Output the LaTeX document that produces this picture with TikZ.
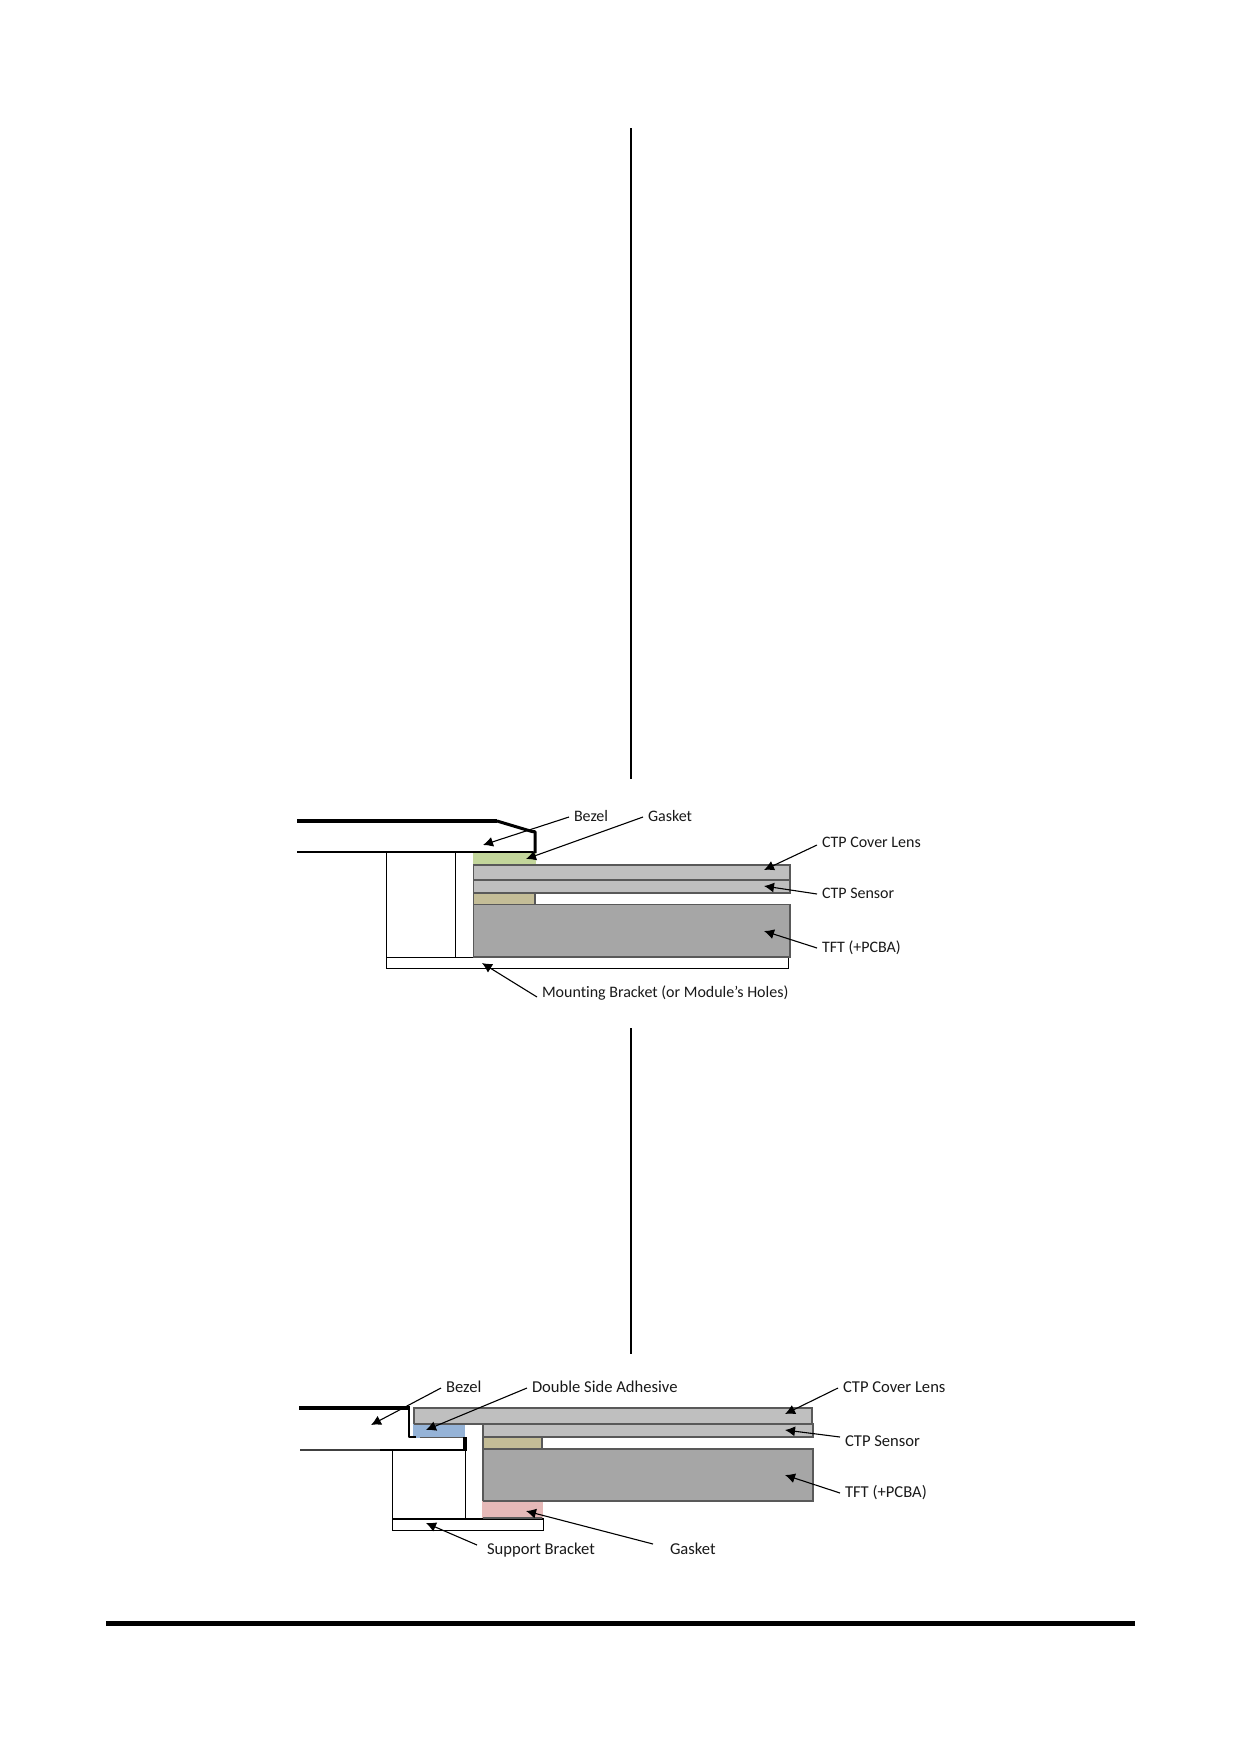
\documentclass[tikz,border=0pt]{standalone}
\usepackage{fontspec}
\setmainfont[Ligatures=NoCommon]{Carlito}
\usetikzlibrary{arrows.meta}
\definecolor{edge}{HTML}{595959}
\definecolor{lens}{HTML}{BFBFBF}
\definecolor{tft}{HTML}{A6A6A6}
\definecolor{tanlayer}{HTML}{C4BD97}
\definecolor{greenlayer}{HTML}{C3D69B}
\definecolor{bluelayer}{HTML}{95B3D7}
\definecolor{pinklayer}{HTML}{E6B9B8}
\tikzset{
  lbl/.style={anchor=west,inner sep=5pt,outer sep=0pt,text height=11pt,text depth=3pt,font=\fontsize{16}{18}\selectfont,text=black!90},
  lblb/.style={lbl,font=\fontsize{16.6}{18}\selectfont},
  callout/.style={draw=black,line width=1.1pt,-{Latex[length=10pt,width=10pt]}},
  layer/.style={draw=edge,line width=1.1pt},
  part/.style={draw=black,line width=1.1pt,fill=white},
  bezel/.style={draw=black,line width=3pt,line join=round},
  bezelthin/.style={draw=black,line width=2pt},
  rule/.style={draw=black,line width=2.5pt}
}
\begin{document}
\begin{tikzpicture}[x=1pt,y=-1pt]
\useasboundingbox (0,0) rectangle (1240,1754);
% vertical rules and footer
\draw[rule] (631,128) -- (631,779);
\draw[rule] (631,1028) -- (631,1354);
\fill[black] (106,1621) rectangle (1135,1626);

% ---------- upper section ----------
\draw[part] (386.5,852) rectangle (455.5,957.5);
\draw[part] (455.5,852) rectangle (473.5,957.5);
\draw[part] (386.5,957.5) rectangle (788.5,968.5);
\draw[layer,fill=greenlayer,draw=greenlayer] (473.5,853) rectangle (535,864.5);
\draw[layer,fill=tanlayer] (473.5,893) rectangle (535,904.5);
\draw[layer,fill=lens] (473.5,865) rectangle (790,880);
\draw[layer,fill=lens] (473.5,880) rectangle (790,893);
\draw[layer,fill=tft] (473.5,904.5) rectangle (790,957);
\draw[draw=edge,line width=1.8pt] (535,865) -- (790,865);
\draw[bezelthin] (297,852) -- (533,852);
\draw[draw=black,line width=4.5pt] (297,821) -- (497,821);
\draw[bezel] (497,821) -- (532,831.5) -- (535,831.5) -- (535,853);

\node[lbl] (bezelA) at (569,817) {Bezel};
\node[lbl] (gasketA) at (643,817) {Gasket};
\node[lbl] (mountA) at (537,993) {Mounting Bracket (or Module’s Holes)};
\node[lbl] (lensA) at (817,843) {CTP Cover Lens};
\node[lbl] (sensorA) at (817,894) {CTP Sensor};
\node[lbl] (tftA) at (817,948) {TFT (+PCBA)};
\coordinate (bezelAtip) at (483,845);
\coordinate (gasketAtip) at (526,859);
\coordinate (mountAtip) at (482,963);
\coordinate (lensAtip) at (764,870);
\coordinate (sensorAtip) at (764,886);
\coordinate (tftAtip) at (764,931);
\draw[callout] (bezelA.west) -- (bezelAtip);
\draw[callout] (gasketA.west) -- (gasketAtip);
\draw[callout] (mountA.west) ++(0,4) -- (mountAtip);
\draw[callout] (lensA.west) ++(0,2) -- (lensAtip);
\draw[callout] (sensorA.west) -- (sensorAtip);
\draw[callout] (tftA.west) -- (tftAtip);

% ---------- lower section ----------
\draw[part] (392.5,1450) rectangle (465.5,1519);
\draw[part] (392.5,1519) rectangle (543.5,1530.5);
\draw[layer,fill=lens] (414,1408) rectangle (812,1423.5);
\draw[layer,fill=bluelayer,draw=bluelayer] (414,1425) rectangle (464,1437);
\draw[layer,fill=lens] (483,1424) rectangle (813,1437);
\draw[layer,fill=tanlayer] (483,1437) rectangle (542,1448.5);
\draw[layer,fill=tft] (483,1449) rectangle (813,1501);
\draw[layer,fill=pinklayer,draw=pinklayer] (483,1501.5) rectangle (542,1517);
\draw[draw=edge,line width=1.2pt] (483,1501) -- (813,1501);
\draw[draw=edge,line width=1.4pt] (483,1518) -- (542,1518);
\draw[draw=edge,line width=2pt] (414,1423.8) -- (813,1423.8);
\draw[draw=black,line width=2pt] (465,1518.5) -- (483,1518.5);
\draw[draw=edge,line width=1.2pt] (420,1437.5) -- (465,1437.5);
\draw[draw=black!75,line width=2pt] (300,1449.5) -- (380,1449.5);
\draw[bezelthin] (380,1449.5) -- (466,1449.5);
\draw[draw=black,line width=3.5pt] (299,1408) -- (410,1408);
\draw[draw=black,line width=2.5pt,line join=round] (409,1408) -- (409,1437) -- (416,1437);
\draw[draw=black,line width=3.5pt] (465,1437) -- (465,1451);

\node[lblb] (bezelB) at (441,1388) {Bezel};
\node[lblb] (adhB) at (527,1388) {Double Side Adhesive};
\node[lblb] (supportB) at (482,1550) {Support Bracket};
\node[lblb] (gasketB) at (665,1550) {Gasket};
\node[lblb] (lensB) at (838,1388) {CTP Cover Lens};
\node[lblb] (sensorB) at (840,1442) {CTP Sensor};
\node[lblb] (tftB) at (840,1493) {TFT (+PCBA)};
\coordinate (bezelBtip) at (371,1425);
\coordinate (adhBtip) at (426,1430);
\coordinate (supportBtip) at (426,1523);
\coordinate (gasketBtip) at (526,1511);
\coordinate (lensBtip) at (785,1414);
\coordinate (sensorBtip) at (785,1430);
\coordinate (tftBtip) at (785,1475);
\draw[callout] (bezelB.west) -- (bezelBtip);
\draw[callout] (adhB.west) -- (adhBtip);
\draw[callout] (supportB.west) ++(-5,-5) -- (supportBtip);
\draw[callout] (gasketB.west) ++(-12,-6) -- (gasketBtip);
\draw[callout] (lensB.west) -- (lensBtip);
\draw[callout] (sensorB.west) ++(0,-5) -- (sensorBtip);
\draw[callout] (tftB.west) -- (tftBtip);
\end{tikzpicture}
\end{document}
